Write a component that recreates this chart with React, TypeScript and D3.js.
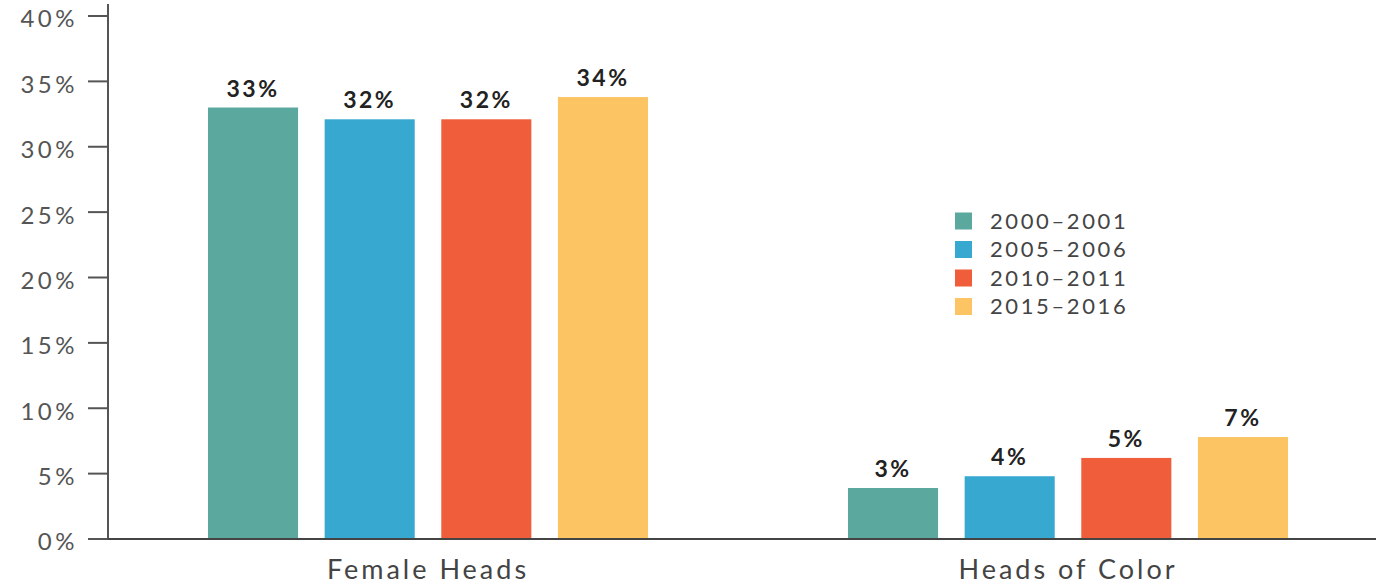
import React from "react";
import * as d3 from "d3";

const categories = ["Female Heads", "Heads of Color"];
const seriesNames = ["2000–2001", "2005–2006", "2010–2011", "2015–2016"];
const femaleHeads = [33.0, 32.1, 32.1, 33.8];
const headsOfColor = [3.9, 4.8, 6.2, 7.8];
const femaleLabels = ["33%", "32%", "32%", "34%"];
const colorLabels = ["3%", "4%", "5%", "7%"];
const yTicks = [0, 5, 10, 15, 20, 25, 30, 35, 40];
const colors = ["#5ba89f", "#37a8d0", "#ef5d3a", "#fcc463"];

const W = 1378;
const H = 585;

export default function App() {
  const y = d3.scaleLinear().domain([0, 40]).range([539, 16]);
  const xGroup = d3.scalePoint<string>().domain(categories).range([428, 1068]);
  const xInner = d3
    .scaleBand<string>()
    .domain(seriesNames)
    .range([-220, 220])
    .paddingInner(0.228)
    .paddingOuter(0);
  const color = d3.scaleOrdinal<string, string>().domain(seriesNames).range(colors);

  const groups = [
    { cat: categories[0], values: femaleHeads, labels: femaleLabels },
    { cat: categories[1], values: headsOfColor, labels: colorLabels },
  ];

  const axisX = 108;
  const font = "Lato, 'Open Sans', sans-serif";

  return (
    <svg
      width={W}
      height={H}
      style={{ position: "absolute", left: 0, top: 0, background: "#fff" }}
      fontFamily={font}
    >
      {/* bars */}
      {groups.map((g) =>
        g.values.map((v, i) => {
          const s = seriesNames[i];
          const x0 = (xGroup(g.cat) as number) + (xInner(s) as number);
          const bw = xInner.bandwidth();
          return (
            <g key={g.cat + s}>
              <rect x={x0} y={y(v)} width={bw} height={y(0) - y(v)} fill={color(s)} />
              <text
                x={x0 + bw / 2}
                y={y(v) - 11}
                textAnchor="middle"
                fontSize={23}
                fontWeight="bold"
                letterSpacing={2.5}
                fill="#222"
              >
                {g.labels[i]}
              </text>
            </g>
          );
        })
      )}

      {/* y axis */}
      <line x1={axisX} x2={axisX} y1={4} y2={y(0)} stroke="#555" strokeWidth={2} />
      <line x1={88} x2={1376} y1={y(0)} y2={y(0)} stroke="#444" strokeWidth={2} />
      {yTicks.map((t) => (
        <g key={t}>
          <line x1={88} x2={axisX} y1={y(t)} y2={y(t)} stroke="#555" strokeWidth={2} />
          <text
            x={78}
            y={y(t) + 3}
            dy="0.35em"
            textAnchor="end"
            fontSize={24}
            letterSpacing={3.5}
            fill="#555"
          >
            {t + "%"}
          </text>
        </g>
      ))}

      {/* category labels */}
      {categories.map((c) => (
        <text
          key={c}
          x={xGroup(c) as number}
          y={579}
          textAnchor="middle"
          fontSize={27}
          letterSpacing={3}
          fill="#444"
        >
          {c}
        </text>
      ))}

      {/* legend */}
      {seriesNames.map((s, i) => (
        <g key={s} transform={`translate(955, ${221 + i * 28.5})`}>
          <rect x={0} y={-8.5} width={17} height={17} fill={color(s)} />
          <text x={35} y={0} dy="0.35em" fontSize={22} letterSpacing={2.6} fill="#444">
            {s}
          </text>
        </g>
      ))}
    </svg>
  );
}
